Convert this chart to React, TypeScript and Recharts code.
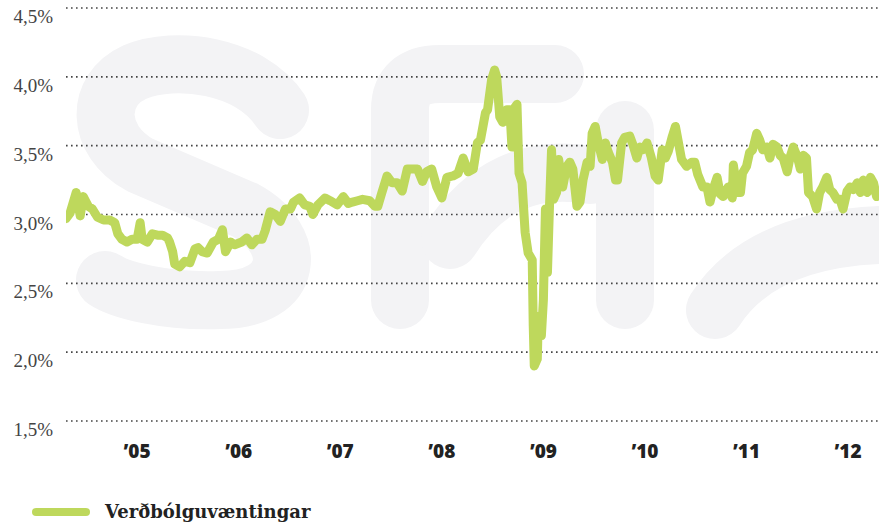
import { LineChart, Line, XAxis, YAxis, CartesianGrid } from "recharts"

// decimal years
const dates = [
  2004.30, 2004.34, 2004.40, 2004.44, 2004.47, 2004.52, 2004.56, 2004.61, 2004.67, 2004.73,
  2004.78, 2004.81, 2004.85, 2004.90, 2004.95, 2005.00, 2005.03, 2005.05, 2005.10, 2005.15,
  2005.20, 2005.25, 2005.30, 2005.32, 2005.35, 2005.37, 2005.42, 2005.47, 2005.52, 2005.57,
  2005.60, 2005.64, 2005.69, 2005.75, 2005.80, 2005.84, 2005.87, 2005.92, 2005.96, 2006.03,
  2006.08, 2006.13, 2006.18, 2006.23, 2006.26, 2006.31, 2006.36, 2006.41, 2006.46, 2006.51,
  2006.54, 2006.60, 2006.65, 2006.70, 2006.73, 2006.78, 2006.85, 2006.90, 2006.97, 2007.03,
  2007.08, 2007.12, 2007.17, 2007.22, 2007.29, 2007.34, 2007.37, 2007.41, 2007.46, 2007.51,
  2007.56, 2007.61, 2007.66, 2007.71, 2007.76, 2007.81, 2007.85, 2007.90, 2007.95, 2008.00,
  2008.05, 2008.11, 2008.16, 2008.21, 2008.26, 2008.31, 2008.35, 2008.38, 2008.43, 2008.45,
  2008.49, 2008.52, 2008.54, 2008.57, 2008.60, 2008.64, 2008.67, 2008.69, 2008.72, 2008.74,
  2008.76, 2008.79, 2008.82, 2008.85, 2008.89, 2008.90, 2008.91, 2008.94, 2008.95, 2008.98,
  2009.00, 2009.02, 2009.04, 2009.06, 2009.08, 2009.10, 2009.13, 2009.15, 2009.19, 2009.23,
  2009.26, 2009.29, 2009.33, 2009.36, 2009.39, 2009.43, 2009.46, 2009.48, 2009.51, 2009.54,
  2009.58, 2009.61, 2009.64, 2009.68, 2009.71, 2009.73, 2009.77, 2009.80, 2009.85, 2009.88,
  2009.92, 2009.95, 2009.98, 2010.02, 2010.06, 2010.10, 2010.13, 2010.17, 2010.20, 2010.23,
  2010.27, 2010.30, 2010.33, 2010.36, 2010.41, 2010.46, 2010.49, 2010.52, 2010.57, 2010.61,
  2010.64, 2010.67, 2010.71, 2010.74, 2010.77, 2010.82, 2010.86, 2010.87, 2010.91, 2010.94,
  2010.96, 2011.00, 2011.03, 2011.06, 2011.10, 2011.13, 2011.16, 2011.20, 2011.23, 2011.26,
  2011.30, 2011.33, 2011.36, 2011.40, 2011.43, 2011.46, 2011.50, 2011.53, 2011.56, 2011.59,
  2011.61, 2011.65, 2011.69, 2011.72, 2011.75, 2011.79, 2011.82, 2011.85, 2011.89, 2011.92,
  2011.95, 2011.99, 2012.02, 2012.05, 2012.09, 2012.12, 2012.15, 2012.19, 2012.22, 2012.25,
  2012.28,
]

const rates = [
  2.97, 3.01, 3.16, 2.99, 3.13, 3.06, 3.04, 2.98, 2.96, 2.96,
  2.94, 2.86, 2.82, 2.80, 2.82, 2.82, 2.94, 2.82, 2.80, 2.86,
  2.85, 2.85, 2.83, 2.80, 2.73, 2.64, 2.62, 2.66, 2.65, 2.75,
  2.76, 2.73, 2.72, 2.80, 2.82, 2.89, 2.73, 2.80, 2.78, 2.80,
  2.83, 2.78, 2.82, 2.82, 2.88, 3.02, 3.00, 2.95, 3.04, 3.04,
  3.09, 3.12, 3.07, 3.06, 3.00, 3.07, 3.12, 3.10, 3.07, 3.13,
  3.08, 3.09, 3.10, 3.11, 3.10, 3.06, 3.06, 3.16, 3.28, 3.23,
  3.23, 3.17, 3.33, 3.33, 3.33, 3.24, 3.31, 3.33, 3.20, 3.12,
  3.27, 3.28, 3.30, 3.41, 3.31, 3.33, 3.52, 3.54, 3.74, 3.76,
  3.98, 4.05, 4.00, 3.71, 3.67, 3.76, 3.76, 3.49, 3.78, 3.80,
  3.30, 3.23, 2.87, 2.72, 2.67, 2.19, 1.90, 1.95, 2.26, 2.12,
  2.38, 3.04, 2.58, 3.06, 3.47, 3.11, 3.16, 3.40, 3.20, 3.35,
  3.38, 3.33, 3.06, 3.09, 3.25, 3.38, 3.35, 3.59, 3.64, 3.52,
  3.40, 3.52, 3.45, 3.38, 3.25, 3.25, 3.52, 3.56, 3.57, 3.51,
  3.41, 3.49, 3.47, 3.52, 3.42, 3.28, 3.25, 3.47, 3.41, 3.46,
  3.57, 3.64, 3.52, 3.40, 3.35, 3.38, 3.38, 3.29, 3.20, 3.20,
  3.09, 3.18, 3.27, 3.15, 3.13, 3.20, 3.12, 3.36, 3.16, 3.16,
  3.30, 3.35, 3.45, 3.47, 3.59, 3.54, 3.47, 3.49, 3.41, 3.51,
  3.49, 3.43, 3.41, 3.31, 3.42, 3.49, 3.42, 3.33, 3.43, 3.41,
  3.16, 3.13, 3.04, 3.16, 3.20, 3.27, 3.18, 3.16, 3.11, 3.11,
  3.04, 3.17, 3.20, 3.18, 3.23, 3.16, 3.25, 3.16, 3.27, 3.23,
  3.13,
]

const yearTicks = [2005, 2006, 2007, 2008, 2009, 2010, 2011, 2012]
const rateTicks = [1.5, 2, 2.5, 3, 3.5, 4, 4.5]
const seriesName = "Verðbólguvæntingar"
const lime = "#bed85c"

const data = dates.map((d, i) => ({ date: d, rate: rates[i] }))

const fmtRate = (v: number) => v.toFixed(1).replace(".", ",") + "%"
const fmtYear = (v: number) => "\u2019" + String(v).slice(2)

function RateTick({ x, y, payload }: any) {
  return (
    <text x={x} y={y} dy={15} textAnchor="end" fontFamily="'Liberation Serif', serif" fontSize={19} fill="#444">
      {fmtRate(payload.value)}
    </text>
  )
}

function YearTick({ x, y, payload }: any) {
  return (
    <text x={x} y={y} dy={37} textAnchor="middle" fontFamily="'Open Sans', sans-serif" fontWeight={800} fontSize={19} fill="#222">
      {fmtYear(payload.value)}
    </text>
  )
}

// faint "sff" watermark behind the plot
function Watermark() {
  const s = { fill: "none", stroke: "#f3f3f5", strokeWidth: 58, strokeLinecap: "round" as const, strokeLinejoin: "round" as const }
  return (
    <svg width={879} height={523} style={{ position: "absolute", left: 0, top: 0 }}>
      <path d="M 280 110 C 250 65 175 55 135 72 C 95 90 95 140 140 165 L 245 210 C 300 240 295 300 220 300 C 165 302 120 290 105 280" {...s} />
      <path d="M 400 300 L 400 110 Q 400 74 440 74 L 555 74" {...s} />
      <path d="M 625 300 L 625 130" {...s} />
      <path d="M 450 240 Q 500 160 590 175" {...s} />
      <path d="M 715 310 Q 760 240 880 235" {...s} />
    </svg>
  )
}

export default function App() {
  return (
    <div style={{ position: "relative", width: 879, height: 523, background: "#fff" }}>
      <style>{"body{margin:0}"}</style>
      <Watermark />
      <div style={{ position: "absolute", left: 0, top: 0 }}>
        <LineChart width={879} height={523} data={data} margin={{ top: 8, right: 0, bottom: 0, left: 0 }}>
          <CartesianGrid vertical={false} stroke="#444" strokeWidth={1.6} strokeDasharray="1.6 3.4" />
          <XAxis
            dataKey="date"
            type="number"
            domain={[2004.3, 2012.304]}
            ticks={yearTicks}
            tick={<YearTick />}
            axisLine={false}
            tickLine={false}
            tickSize={0}
            tickMargin={0}
            height={102}
            allowDataOverflow
          />
          <YAxis
            domain={[1.5, 4.5]}
            ticks={rateTicks}
            tick={<RateTick />}
            axisLine={false}
            tickLine={false}
            tickSize={0}
            tickMargin={13}
            width={66}
            interval={0}
          />
          <Line
            type="linear"
            dataKey="rate"
            name={seriesName}
            stroke={lime}
            strokeWidth={9}
            strokeLinejoin="round"
            strokeLinecap="round"
            dot={false}
            isAnimationActive={false}
          />
        </LineChart>
      </div>
      <div style={{ position: "absolute", left: 32, top: 501, display: "flex", alignItems: "center", gap: 15 }}>
        <div style={{ width: 58, height: 8, borderRadius: 4, background: lime }} />
        <span style={{ fontFamily: "'DejaVu Serif', serif", fontWeight: 700, fontSize: 18, color: "#222" }}>{seriesName}</span>
      </div>
    </div>
  )
}
